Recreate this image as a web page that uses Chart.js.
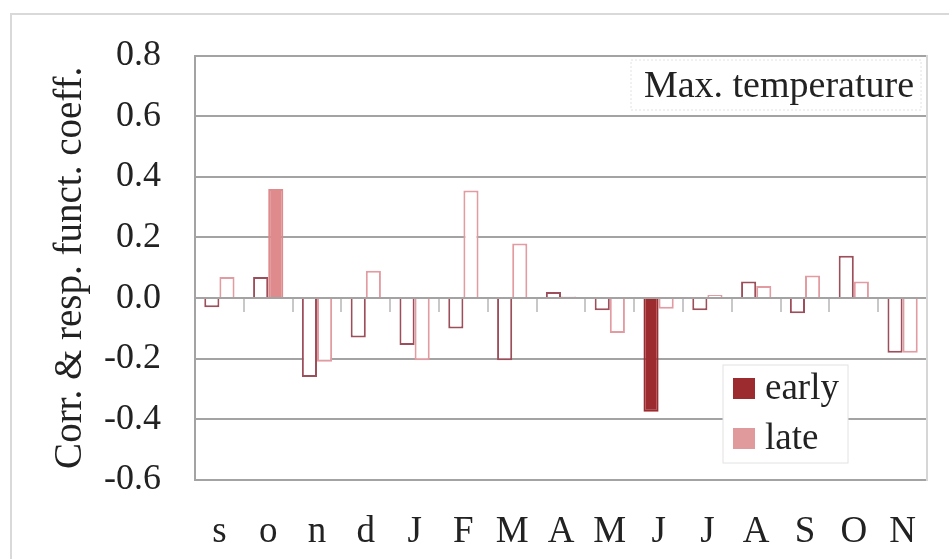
<!DOCTYPE html>
<html>
<head>
<meta charset="utf-8">
<script src="https://cdn.jsdelivr.net/npm/chart.js@4"></script>
<style>
  html, body { margin: 0; padding: 0; background: #fff; }
  #wrap { width: 949px; height: 559px; }
</style>
</head>
<body>
<div id="wrap"><canvas id="myChart" width="949" height="559"></canvas></div>
<script>
var months = ['s', 'o', 'n', 'd', 'J', 'F', 'M', 'A', 'M', 'J', 'J', 'A', 'S', 'O', 'N'];
var early = [-0.03, 0.07, -0.26, -0.13, -0.155, -0.10, -0.205, 0.02, -0.04, -0.375, -0.04, 0.055, -0.05, 0.14, -0.18];
var late = [0.07, 0.36, -0.21, 0.09, -0.205, 0.355, 0.18, 0.005, -0.115, -0.035, 0.01, 0.04, 0.075, 0.055, -0.18];
// significant coefficients are drawn filled
var earlySig = [0, 0, 0, 0, 0, 0, 0, 0, 0, 1, 0, 0, 0, 0, 0];
var lateSig = [0, 1, 0, 0, 0, 0, 0, 0, 0, 0, 0, 0, 0, 0, 0];
var yTicks = [-0.6, -0.4, -0.2, 0.0, 0.2, 0.4, 0.6, 0.8];

var serif = 'Liberation Serif';
var earlyFill = '#9b2b2f', earlyLine = '#9c4f5a';
var lateFill = '#df8a8c', lateLine = '#e39ba2';

function fills(sig, col) {
	return sig.map(function(s) { return s ? col : '#ffffff'; });
}
function lines(sig, fillCol, lineCol) {
	return sig.map(function(s) { return s ? fillCol : lineCol; });
}

// frame, title box and legend box
var decor = {
	id: 'decor',
	beforeDraw: function(chart) {
		var c = chart.ctx;
		c.save();
		c.fillStyle = '#fff';
		c.fillRect(0, 0, chart.width, chart.height);
		c.strokeStyle = '#d9d9d9';
		c.lineWidth = 2;
		c.strokeRect(11, 14, chart.width, chart.height);
		c.restore();
	},
	afterDatasetsDraw: function(chart) {
		var c = chart.ctx;
		c.save();
		// title box
		var tr = chart.chartArea.right - 13, tt = 60;
		c.fillStyle = '#fff';
		c.fillRect(631, tt, tr - 631 + 7, 50);
		c.setLineDash([2, 2]);
		c.strokeStyle = '#e2e2e2';
		c.lineWidth = 1;
		c.strokeRect(631, tt, tr - 631 + 7, 50);
		c.setLineDash([]);
		c.fillStyle = '#222';
		c.font = '38px "' + serif + '"';
		c.textAlign = 'right';
		c.textBaseline = 'alphabetic';
		c.fillText('Max. temperature', tr, 97);

		// legend
		var lx = 723, ly = 365;
		c.fillStyle = '#fff';
		c.fillRect(lx, ly, 125, 98);
		c.strokeStyle = '#e2e2e2';
		c.strokeRect(lx, ly, 125, 98);
		var items = [['early', earlyFill], ['late', '#e09a9c']];
		c.font = '37px "' + serif + '"';
		c.textAlign = 'left';
		for (var i = 0; i < items.length; i++) {
			var yy = ly + 13 + i * 50;
			c.fillStyle = items[i][1];
			c.fillRect(lx + 10, yy, 22, 21);
			c.fillStyle = '#222';
			c.fillText(items[i][0], lx + 42, yy + 21);
		}
		c.restore();
	}
};

var ctx = document.getElementById('myChart').getContext('2d');
var myChart = new Chart(ctx, {
	type: 'bar',
	data: {
		labels: months,
		datasets: [{
			label: 'early',
			data: early,
			backgroundColor: fills(earlySig, earlyFill),
			borderColor: lines(earlySig, earlyFill, earlyLine),
			borderWidth: 2,
			categoryPercentage: 0.62,
			barPercentage: 1.0
		}, {
			label: 'late',
			data: late,
			backgroundColor: fills(lateSig, lateFill),
			borderColor: lines(lateSig, lateFill, lateLine),
			borderWidth: 2,
			categoryPercentage: 0.62,
			barPercentage: 1.0
		}]
	},
	options: {
		responsive: false,
		animation: false,
		layout: { padding: { left: 38, top: 50, right: 22, bottom: 0 } },
		plugins: {
			legend: { display: false },
			tooltip: { enabled: false }
		},
		scales: {
			x: {
				grid: { display: false },
				border: { display: false },
				ticks: {
					color: '#222',
					padding: 22,
					font: { family: serif, size: 37 }
				},
				afterFit: function(s) { s.height = 79; }
			},
			x0: {
				type: 'category',
				position: { y: 0 },
				offset: true,
				grid: { offset: true, drawOnChartArea: false, drawTicks: true, tickLength: 14, color: '#c8c8c8', lineWidth: 2 },
				border: { display: false },
				ticks: { display: false }
			},
			y: {
				min: -0.6,
				max: 0.8,
				afterBuildTicks: function(s) {
					s.ticks = yTicks.map(function(v) { return { value: v }; });
				},
				grid: { color: '#a3a3a3', lineWidth: 2, drawTicks: false },
				border: { color: '#a3a3a3', width: 2 },
				ticks: {
					color: '#222',
					padding: 34,
					font: { family: serif, size: 36 }
				,
					callback: function(v) { return v.toFixed(1); }
				},
				title: {
					display: true,
					text: 'Corr. & resp. funct. coeff.',
					color: '#222',
					font: { family: serif, size: 39 },
					padding: { top: 9, bottom: 0 }
				},
				afterFit: function(s) { s.width = 157; }
			},
			y2: {
				position: 'right',
				min: -0.6,
				max: 0.8,
				grid: { drawOnChartArea: false, drawTicks: false },
				border: { color: '#d6d6d6', width: 2 },
				ticks: { display: false },
				afterFit: function(s) { s.width = 0; }
			}
		}
	},
	plugins: [decor]
});
</script>
</body>
</html>
